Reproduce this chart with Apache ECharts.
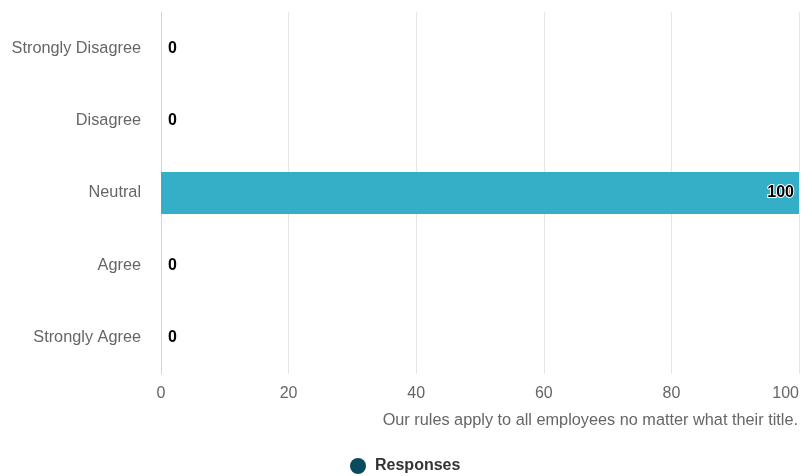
<!DOCTYPE html>
<html>
<head>
<meta charset="utf-8">
<script src="https://cdn.jsdelivr.net/npm/echarts@6/dist/echarts.min.js"></script>
<style>
  html, body { margin: 0; padding: 0; background: #fff; }
  #chart { width: 804px; height: 476px; }
</style>
</head>
<body>
<div id="chart"></div>
<script>
// Survey answers, top to bottom
const categories = ['Strongly Disagree', 'Disagree', 'Neutral', 'Agree', 'Strongly Agree'];
const responses = [0, 0, 100, 0, 0];
const xTicks = [0, 20, 40, 60, 80, 100];
const seriesName = 'Responses';
const statement = 'Our rules apply to all employees no matter what their title.';

const chart = echarts.init(document.getElementById('chart'));

const barData = responses.map(v => ({
  value: v,
  label: v > 0
    ? { position: 'insideRight', distance: 5 }
    : { position: 'right', distance: 7 }
}));

chart.setOption({
  animation: false,
  textStyle: { fontFamily: 'Liberation Sans, Arial, sans-serif' },
  grid: {
    left: 161, right: 5, top: 12, bottom: 102,
    containLabel: false, outerBoundsMode: 'none'
  },
  legend: {
    top: 453,
    left: 345,
    icon: 'circle',
    itemWidth: 16,
    itemHeight: 16,
    textStyle: {
      color: '#333', fontWeight: 'bold', fontSize: 16,
      padding: [0, 0, 0, 4]
    },
    data: [{ name: seriesName, itemStyle: { color: '#0b4a5e' } }]
  },
  xAxis: {
    type: 'value',
    min: xTicks[0],
    max: xTicks[xTicks.length - 1],
    interval: xTicks[1] - xTicks[0],
    name: statement,
    nameLocation: 'end',
    nameGap: -1,
    nameTextStyle: {
      color: '#666', fontSize: 16.3, align: 'right', verticalAlign: 'top',
      padding: [39, 0, 0, 0]
    },
    axisLine: { show: false },
    axisTick: { show: false },
    axisLabel: { color: '#666', fontSize: 16, margin: 12, alignMaxLabel: 'right' },
    splitLine: { show: true, lineStyle: { color: '#e6e6e6', width: 1 } }
  },
  yAxis: {
    type: 'category',
    inverse: true,
    data: categories,
    axisLine: { show: true, lineStyle: { color: '#ccd6eb', width: 1 } },
    axisTick: { show: false },
    axisLabel: { color: '#666', fontSize: 16.3, margin: 20 },
    splitLine: { show: false }
  },
  series: [{
    name: seriesName,
    type: 'bar',
    barWidth: '58%',
    itemStyle: { color: '#34afc7' },
    label: {
      show: true,
      color: '#000',
      fontWeight: 'bold',
      fontSize: 16,
      textBorderColor: '#fff',
      textBorderWidth: 2
    },
    data: barData
  }]
});
</script>
</body>
</html>
